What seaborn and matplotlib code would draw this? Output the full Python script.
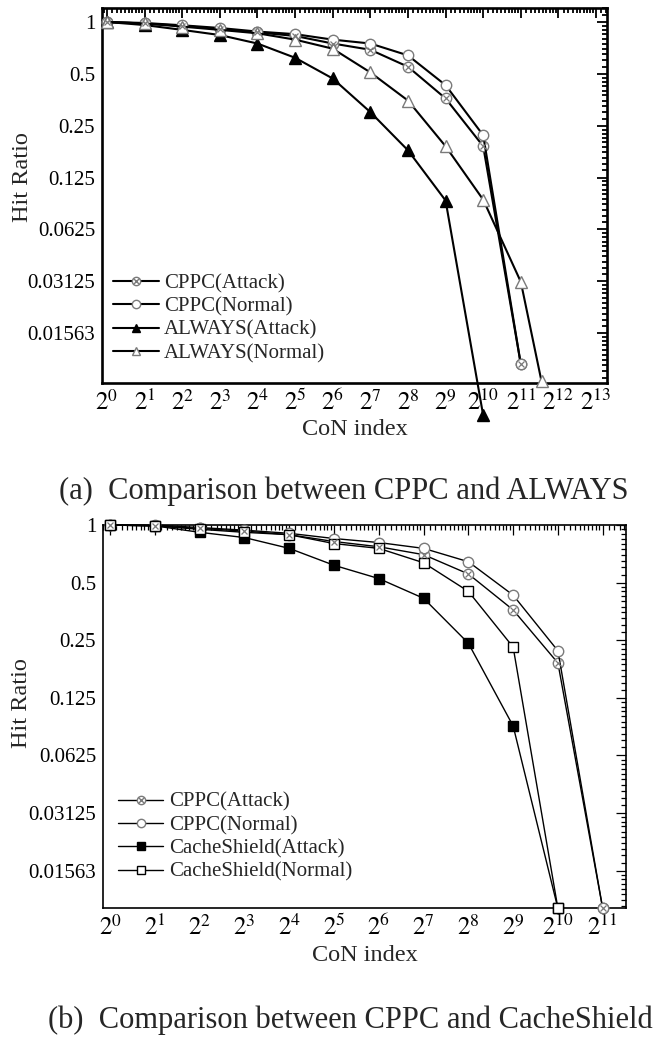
import numpy as np
import pandas as pd
import matplotlib
matplotlib.use("Agg")
import matplotlib.pyplot as plt
import matplotlib.ticker as mticker
from matplotlib.lines import Line2D
from matplotlib.legend_handler import HandlerTuple
import seaborn as sns

sns.set_style("white")
plt.rcParams["font.family"] = ["Liberation Serif", "DejaVu Serif"]
plt.rcParams["mathtext.fontset"] = "stix"

# ---- data (x = CoN index, y = hit ratio) ----
# panel (a): CPPC vs ALWAYS
x_a = [2**k for k in range(12)]
cppc_attack_a = [1.0, 0.98, 0.95, 0.91, 0.87, 0.83, 0.75, 0.69, 0.55, 0.36, 0.19, 0.0103]
cppc_normal_a = [1.0, 0.987, 0.957, 0.923, 0.88, 0.85, 0.79, 0.75, 0.64, 0.43, 0.22, 0.0103]
x_always_attack = [2**k for k in range(11)]
always_attack = [1.0, 0.96, 0.90, 0.84, 0.75, 0.62, 0.47, 0.30, 0.18, 0.092, 0.0052]
x_always_normal = [2**k for k in range(12)] + [2**11.55]
always_normal = [1.0, 0.98, 0.94, 0.90, 0.86, 0.79, 0.70, 0.51, 0.35, 0.19, 0.093, 0.031, 0.0082]

# panel (b): CPPC vs CacheShield
x_b = [2**k for k in range(12)]
cppc_attack_b = [1.0, 0.99, 0.96, 0.93, 0.89, 0.82, 0.77, 0.70, 0.555, 0.36, 0.19, 0.0099]
cppc_normal_b = [1.0, 1.0, 0.97, 0.94, 0.905, 0.85, 0.81, 0.755, 0.643, 0.43, 0.22, 0.0099]
x_cs = [2**k for k in range(11)]
cs_attack = [1.0, 0.99, 0.916, 0.86, 0.755, 0.616, 0.525, 0.414, 0.241, 0.089, 0.0099]
cs_normal = [1.0, 0.99, 0.95, 0.916, 0.89, 0.80, 0.755, 0.635, 0.45, 0.23, 0.0099]

y_ticks = [1, 0.5, 0.25, 0.125, 0.0625, 0.03125, 0.015625]
y_ticklabels = ["1", "0.5", "0.25", "0.125", "0.0625", "0.03125", "0.01563"]

GRAY = "#7a7a7a"

fig = plt.figure(figsize=(6.59, 10.37), dpi=100)
ax_a = fig.add_axes([0.1548, 0.6307, 0.7663, 0.3616])
ax_b = fig.add_axes([0.1563, 0.1244, 0.7936, 0.3693])


def draw(ax, x, y, marker, mfc, mec, lw, ms, xmark=False):
    sns.lineplot(x=x, y=y, ax=ax, estimator=None, sort=False, color="black",
                 linewidth=lw, marker=marker, markersize=ms, markerfacecolor=mfc,
                 markeredgecolor=mec, markeredgewidth=1.0, clip_on=False, zorder=3)
    if xmark:
        ax.plot(x, y, linestyle="none", marker="x", markersize=ms * 0.62,
                markeredgecolor=mec, markeredgewidth=0.9, clip_on=False, zorder=4)


def minor_positions(lo_exp, hi_exp):
    # linear subdivisions inside each power-of-two interval
    return [m * 2.0**k for k in range(lo_exp, hi_exp) for m in np.arange(1.1, 2.0, 0.1)]


def style_axes(ax, xmax_exp, xlim, ylim, spine_w, lw_tick):
    ax.set_xscale("log", base=2)
    ax.set_yscale("log", base=2)
    ax.set_xlim(*xlim)
    ax.set_ylim(*ylim)
    ax.xaxis.set_major_locator(mticker.FixedLocator([2**k for k in range(xmax_exp + 1)]))
    ax.xaxis.set_major_formatter(mticker.FixedFormatter(
        [r"$2^{%d}$" % k for k in range(xmax_exp + 1)]))
    ax.xaxis.set_minor_locator(mticker.FixedLocator(minor_positions(-1, xmax_exp + 1)))
    ax.yaxis.set_major_locator(mticker.FixedLocator(y_ticks))
    ax.yaxis.set_major_formatter(mticker.FixedFormatter(y_ticklabels))
    ax.yaxis.set_minor_locator(mticker.FixedLocator(minor_positions(-8, 1)))
    ax.yaxis.set_minor_formatter(mticker.NullFormatter())
    ax.xaxis.set_minor_formatter(mticker.NullFormatter())
    for s in ax.spines.values():
        s.set_linewidth(spine_w)
        s.set_color("black")
    ax.tick_params(which="both", direction="in", top=True, right=True,
                   width=lw_tick, colors="black")
    ax.tick_params(which="major", length=7)
    ax.tick_params(which="minor", length=3.5)
    ax.tick_params(axis="x", labelsize=18, pad=5)
    ax.tick_params(axis="y", labelsize=15, pad=5)
    ax.set_ylabel("Hit Ratio", fontsize=17.5)
    ax.set_xlabel("CoN index", fontsize=17.5, labelpad=3)
    ax.grid(False)


# ---- panel (a) ----
lw_a = 1.5
draw(ax_a, x_a, cppc_attack_a, "o", "white", GRAY, lw_a, 7.5, xmark=True)
draw(ax_a, x_a, cppc_normal_a, "o", "white", GRAY, lw_a, 7.5)
draw(ax_a, x_always_attack, always_attack, "^", "black", "black", lw_a, 8)
draw(ax_a, x_always_normal, always_normal, "^", "white", GRAY, lw_a, 8)
style_axes(ax_a, 13, (2**-0.13, 2**13.29), (2**-6.96, 2**0.27), 1.9, 1.3)
ax_a.yaxis.set_label_coords(-0.137, 0.55)

# ---- panel (b) ----
lw_b = 1.0
draw(ax_b, x_b, cppc_attack_b, "o", "white", GRAY, lw_b, 7.5, xmark=True)
draw(ax_b, x_b, cppc_normal_b, "o", "white", GRAY, lw_b, 7.5)
draw(ax_b, x_cs, cs_attack, "s", "black", "black", lw_b, 7)
draw(ax_b, x_cs, cs_normal, "s", "white", "black", lw_b, 7)
style_axes(ax_b, 11, (2**-0.16, 2**11.52), (2**-6.65, 1.0), 1.2, 0.9)
ax_b.yaxis.set_label_coords(-0.136, 0.535)


def legend_handles(lw, third_marker, labels, ms=6):
    h_attack = (Line2D([], [], color="black", lw=lw, marker="o", ms=ms,
                       mfc="white", mec=GRAY),
                Line2D([], [], color="none", lw=0, marker="x", ms=ms * 0.62, mec=GRAY))
    h_normal = Line2D([], [], color="black", lw=lw, marker="o", ms=ms, mfc="white", mec=GRAY)
    h_3 = Line2D([], [], color="black", lw=lw, marker=third_marker, ms=ms, mfc="black", mec="black")
    mec4 = GRAY if third_marker == "^" else "black"
    h_4 = Line2D([], [], color="black", lw=lw, marker=third_marker, ms=ms, mfc="white", mec=mec4)
    return [h_attack, h_normal, h_3, h_4], labels


h, l = legend_handles(lw_a, "^", ["CPPC(Attack)", "CPPC(Normal)", "ALWAYS(Attack)", "ALWAYS(Normal)"])
ax_a.legend(h, l, loc="center left", bbox_to_anchor=(0.022, 0.172), frameon=False,
            fontsize=15, handlelength=2.2, handletextpad=0.25, labelspacing=0.18,
            borderpad=0, borderaxespad=0, handler_map={tuple: HandlerTuple(ndivide=1)})

h, l = legend_handles(lw_b, "s", ["CPPC(Attack)", "CPPC(Normal)", "CacheShield(Attack)", "CacheShield(Normal)"])
ax_b.legend(h, l, loc="center left", bbox_to_anchor=(0.028, 0.185), frameon=False,
            fontsize=15, handlelength=2.2, handletextpad=0.25, labelspacing=0.18,
            borderpad=0, borderaxespad=0, handler_map={tuple: HandlerTuple(ndivide=1)})

fig.text(0.522, 1 - 491 / 1037, "(a)  Comparison between CPPC and ALWAYS",
         ha="center", va="center", fontsize=22)
fig.text(0.532, 1 - 1020 / 1037, "(b)  Comparison between CPPC and CacheShield",
         ha="center", va="center", fontsize=22)

fig.savefig("out.png", dpi=100)
